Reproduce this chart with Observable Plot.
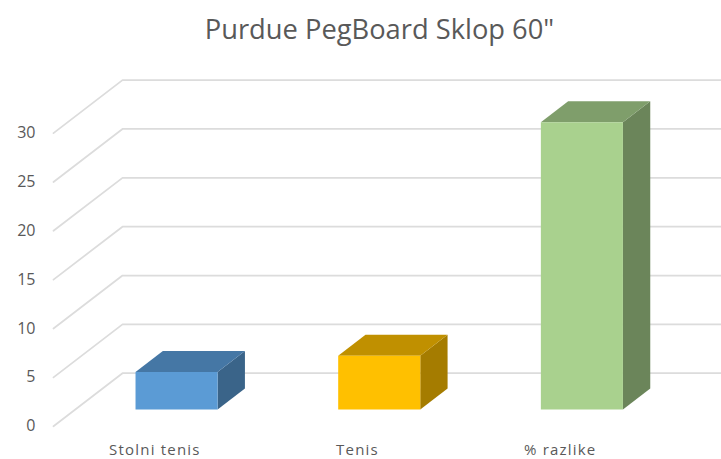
<!DOCTYPE html>
<html>
<head>
<meta charset="utf-8">
<script src="https://cdn.jsdelivr.net/npm/d3@7"></script>
<script src="https://cdn.jsdelivr.net/npm/@observablehq/plot@0.6"></script>
<style>
  html, body { margin: 0; padding: 0; background: #fff; overflow: hidden; }
  #title { height: 55px; width: 721px; margin: 0; text-align: center; font: 400 27.3px "Open Sans", sans-serif; color: #595959; line-height: 57px; padding-left: 38px; box-sizing: border-box; }
  svg { display: block; }
  svg g[aria-label="x-axis tick label"] { letter-spacing: 1.2px; }
</style>
</head>
<body>
<div id="title">Purdue PegBoard Sklop 60"</div>
<div id="chart"></div>
<script>
const categories = ["Stolni tenis", "Tenis", "% razlike"];
const values = [3.85, 5.5, 29.4];
const frontColors = ["#5b9bd5", "#ffc000", "#a9d18e"];
const topColors = ["#4577a5", "#c09000", "#7f9e6b"];
const sideColors = ["#3a6489", "#a57c00", "#6b855a"];
const yTicks = [0, 5, 10, 15, 20, 25, 30];

// Oblique projection of the depth axis, in scale units
const depthX = 0.3404, depthY = 5.42;
const barWidth = 0.405, barZ0 = 0.315, barZ1 = 0.711;
const pt = (x, y, z) => ({x: x + z * depthX, y: y + z * depthY});

const grid = yTicks.flatMap(v => [
  {...pt(0, v, 0), v},
  {...pt(0, v, 1), v},
  {...pt(3, v, 1), v}
]);

const barMarks = categories.flatMap((c, i) => {
  const l = i + 0.5 - barWidth / 2, r = i + 0.5 + barWidth / 2, v = values[i];
  const front = [pt(l, 0, barZ0), pt(r, 0, barZ0), pt(r, v, barZ0), pt(l, v, barZ0)];
  const top = [pt(l, v, barZ0), pt(r, v, barZ0), pt(r, v, barZ1), pt(l, v, barZ1)];
  const side = [pt(r, 0, barZ0), pt(r, 0, barZ1), pt(r, v, barZ1), pt(r, v, barZ0)];
  const face = (data, fill) => Plot.line(data, {x: "x", y: "y", fill, stroke: "none", curve: "linear-closed"});
  return [face(side, sideColors[i]), face(top, topColors[i]), face(front, frontColors[i])];
});

const chart = Plot.plot({
  width: 721,
  height: 404,
  marginLeft: 53,
  marginRight: 0,
  marginTop: 0,
  marginBottom: 33,
  style: {fontFamily: "'Open Sans', sans-serif", background: "#fff", overflow: "hidden"},
  x: {domain: [0, 3], range: [53, 661]},
  y: {domain: [0, 30], range: [370.7, 77.6]},
  marks: [
    Plot.line(grid, {x: "x", y: "y", z: "v", stroke: "#dcdcdc", strokeWidth: 1.75}),
    ...barMarks,
    Plot.axisY({ticks: yTicks, tickSize: 0, tickPadding: 18, label: null, fontSize: 16, fill: "#595959"}),
    Plot.axisX({ticks: [0.5, 1.5, 2.5], tickFormat: v => categories[Math.floor(v)], tickSize: 0, tickPadding: 18, label: null, fontSize: 15, fill: "#595959"})
  ]
});
document.getElementById("chart").appendChild(chart);
</script>
</body>
</html>
